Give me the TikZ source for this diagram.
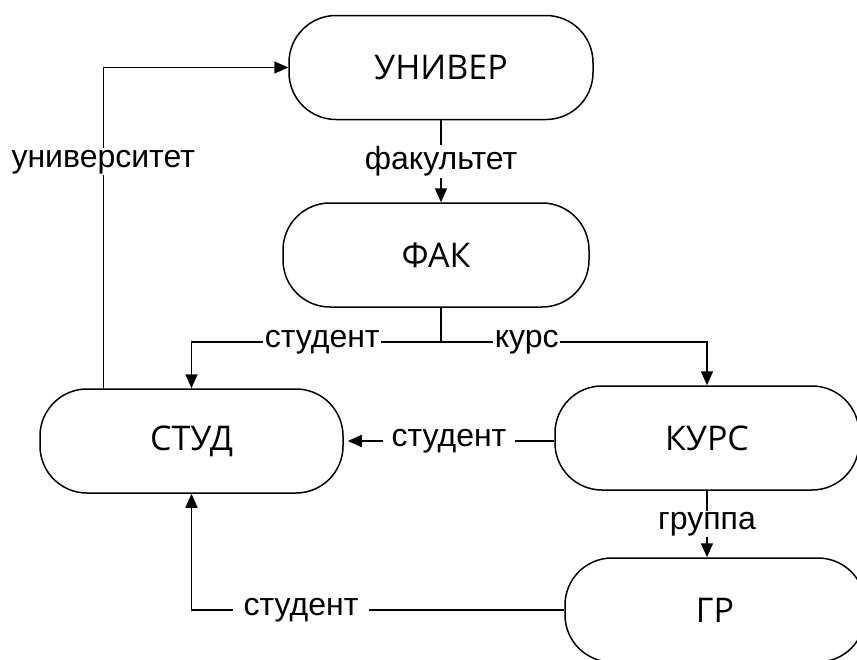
\documentclass[tikz,border=0pt]{standalone}
\usepackage{fontspec}
\setmainfont{Open Sans}
\newfontfamily\lblfont{Liberation Sans}
\usetikzlibrary{arrows.meta,calc}
\tikzset{
  term/.style={draw, line width=1.5pt, rounded corners=47pt, minimum width=#1, minimum height=104pt, inner sep=0pt,
    font=\fontsize{34}{40}\selectfont},
  arr/.style={line width=1.5pt, -{Triangle[length=14pt,width=12pt]}},
  ln/.style={line width=1.5pt},
  lbl/.style={fill=white, inner sep=1.5pt, font=\lblfont\fontsize{32}{38}\selectfont}
}
\begin{document}
\begin{tikzpicture}[x=1pt,y=-1pt]
\useasboundingbox[fill=white] (0,0) rectangle (857,659);
\node[term=304pt] (univ) at (441,67.5) {УНИВЕР};
\node[term=306pt] (fak) at (436,255) {ФАК};
\node[term=303pt] (stud) at (191.5,441) {СТУД};
\node[term=304pt] (kurs) at (707,438) {КУРС};
\node[term=300pt] (gr) at (715,610) {ГР};
\coordinate (j) at (441,342);
\coordinate (s1) at ($(stud.north west)+(64,0)$);
% univ -> fak
\draw[arr] (univ.south) -- node[lbl]{факультет} (univ.south |- fak.north);
% fak -> stud / kurs
\draw[ln] (fak.south -| j) -- (j);
\draw[arr] (j) -| node[lbl, pos=0.238]{студент} (stud.north);
\draw[arr] (j) -| node[lbl, pos=0.161]{курс} (kurs.north);
% kurs -> stud
\draw[arr, shorten >=4pt] (kurs.west |- stud.east) -- node[lbl, inner xsep=9pt]{студент} (stud.east);
% kurs -> gr
\draw[arr] (kurs.south) -- node[lbl]{группа} (kurs.south |- gr.north);
% gr -> stud
\draw[arr] (gr.west) -| node[lbl, pos=0.353, inner xsep=11pt]{студент} (stud.south);
% stud -> univ
\draw[arr] (s1) |- node[lbl, pos=0.353]{университет} (univ.west);
\end{tikzpicture}
\end{document}
